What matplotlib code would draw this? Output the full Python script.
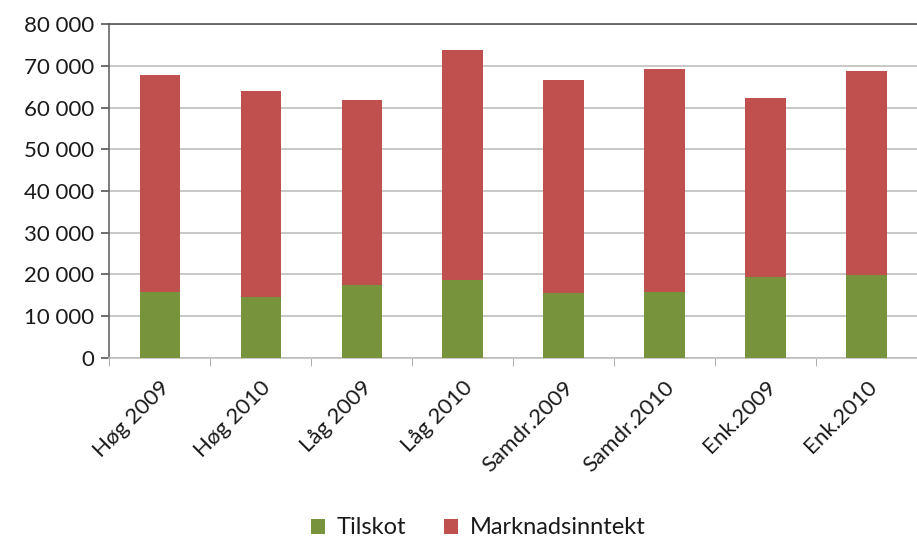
import numpy as np
import matplotlib
matplotlib.use("Agg")
from matplotlib import pyplot as plt
from matplotlib.ticker import FuncFormatter, MultipleLocator

plt.rcParams['font.family'] = ['Lato', 'DejaVu Sans']

categories = ["Høg 2009", "Høg 2010", "Låg 2009", "Låg 2010",
              "Samdr.2009", "Samdr.2010", "Enk.2009", "Enk.2010"]
tilskot = [15800, 14650, 17350, 18650, 15600, 15850, 19300, 19850]
marknad = [52100, 49250, 44400, 55200, 51100, 53500, 43000, 48900]

green = "#77933C"
red = "#C0504D"

fig = plt.figure(figsize=(9.17, 5.39), dpi=100)
ax = fig.add_axes([109.3 / 917, 1 - 357.7 / 539, 1 - 109.3 / 917, (357.7 - 24.3) / 539])

x = np.arange(len(categories))
ax.bar(x, tilskot, width=0.4, color=green, label="Tilskot", zorder=3)
ax.bar(x, marknad, width=0.4, bottom=tilskot, color=red, label="Marknadsinntekt", zorder=3)

ax.set_ylim(0, 80000)
ax.set_xlim(-0.5, -0.5 + (917 - 109.3) / 102.1)
ax.yaxis.set_major_locator(MultipleLocator(10000))
ax.yaxis.set_major_formatter(FuncFormatter(lambda v, p: f"{int(v):,}".replace(",", " ")))
ax.grid(axis='y', color='#BFBFBF', linewidth=1.2, zorder=0)

ax.set_xticks(x)
ax.set_xticklabels(categories, rotation=45, ha='right', va='top', rotation_mode='anchor')
ax.set_xticks(np.arange(-0.5, len(categories) - 0.4, 1), minor=True)
ax.tick_params(axis='x', which='major', length=0, pad=14, labelsize=16, colors='#1a1a1a')
ax.tick_params(axis='x', which='minor', length=6, color='#A0A0A0', direction='out')
ax.tick_params(axis='y', length=6, color='#555555', width=1.2, labelsize=16, pad=5, labelcolor='#1a1a1a')

ax.spines['right'].set_visible(False)
ax.spines['top'].set_color('#555555')
ax.spines['top'].set_linewidth(1.2)
ax.spines['left'].set_color('#666666')
ax.spines['left'].set_linewidth(1.2)
ax.spines['bottom'].set_color('#BFBFBF')
ax.spines['bottom'].set_linewidth(1.2)

fig.legend(loc='center', bbox_to_anchor=(478 / 917, 1 - 528 / 539), ncol=2, frameon=False,
           fontsize=17, handlelength=0.6, handleheight=0.6, columnspacing=1.6, handletextpad=0.5,
           labelcolor='#1a1a1a')

fig.savefig("out.png", dpi=100)
